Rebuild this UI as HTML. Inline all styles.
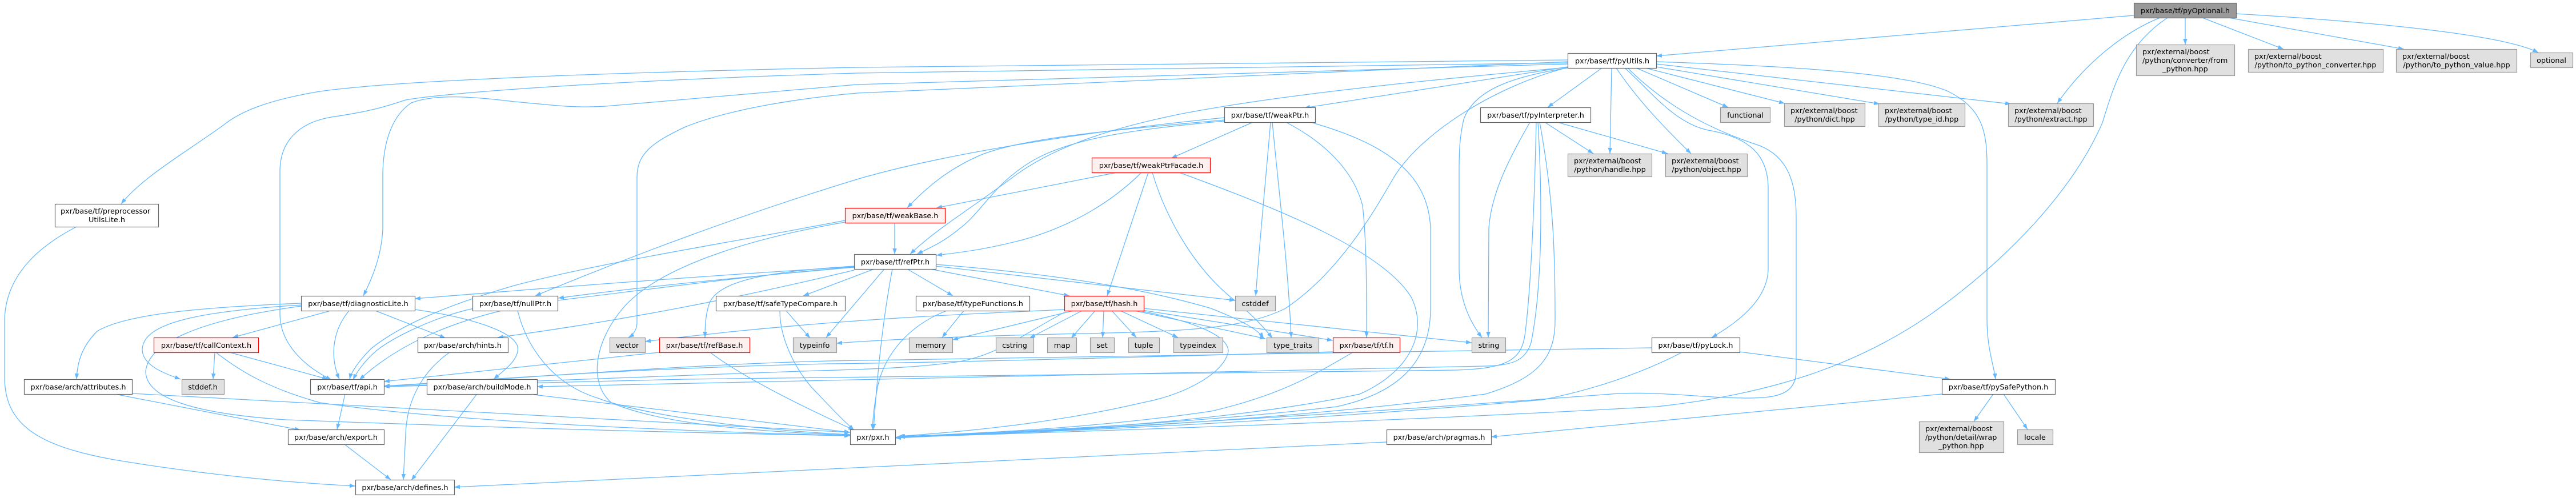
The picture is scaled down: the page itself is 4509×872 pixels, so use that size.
<!DOCTYPE html>
<html><head><meta charset="utf-8"><style>
html,body{margin:0;padding:0;background:#fff;}
svg{display:block;}
text{font-family:"DejaVu Sans","Liberation Sans",sans-serif;font-size:12.8px;fill:#000;}
.e{fill:none;stroke:#63b8ff;stroke-width:1.25;marker-end:url(#a);}
.w{fill:#fff;stroke:#666;stroke-width:1.2;}
.r{fill:#fff0f0;stroke:#ff0000;stroke-width:1.2;}
.g{fill:#e0e0e0;stroke:#999;stroke-width:1.2;}
.k{fill:#999;stroke:#666;stroke-width:1.2;}
</style></head><body>
<svg width="4509" height="872" viewBox="0 0 4509 872" xmlns="http://www.w3.org/2000/svg">
<defs><marker id="a" markerWidth="11" markerHeight="9" refX="10" refY="4" orient="auto" markerUnits="userSpaceOnUse"><path d="M0,0.3 L10,4 L0,7.7 z" fill="#63b8ff"/></marker></defs>
<g>
<!-- pyOptional -->
<path class="e" d="M3735,27 L2899,98"/>
<path class="e" d="M3825,31 L3825,78"/>
<path class="e" d="M3855,31 L3997,86"/>
<path class="e" d="M3901,31 L4208,86"/>
<path class="e" d="M3914,24 C4150,38 4380,60 4443,92"/>
<path class="e" d="M3781,31 C3720,55 3650,110 3601,181"/>
<path class="e" d="M3794,31 C3720,80 3700,150 3680,215 C3630,330 3520,450 3380,550 C3250,640 3100,690 2900,712 C2400,740 1900,755 1567,766"/>
<!-- pyUtils -->
<path class="e" d="M2804,119 L2709,188"/>
<path class="e" d="M2821,119 L2818,269"/>
<path class="e" d="M2829,119 C2870,180 2920,230 2960,269"/>
<path class="e" d="M2864,119 L3025,188"/>
<path class="e" d="M2880,119 L3124,181"/>
<path class="e" d="M2899,117 L3290,182"/>
<path class="e" d="M2899,112 L3520,182"/>
<path class="e" d="M2899,108 C3100,115 3330,125 3410,160 C3470,190 3478,230 3478,290 L3478,560 C3478,610 3490,640 3493,664"/>
<path class="e" d="M2844,119 C2890,160 2930,215 2990,228 C3060,240 3095,270 3095,330 L3095,470 C3095,520 3050,560 2996,591"/>
<path class="e" d="M2849,119 C2930,200 3020,235 3080,255 C3130,275 3144,320 3144,380 L3144,650 C3144,690 3110,697 3060,697 C2980,697 2900,684 2820,690 C2400,722 1900,752 1567,767"/>
<path class="e" d="M2744,117 L2283,189"/>
<path class="e" d="M2744,118 C2500,140 2250,165 2080,197 C1950,222 1850,255 1780,305 C1700,365 1640,400 1593,445"/>
<path class="e" d="M2744,119 C2640,135 2580,160 2562,209 C2555,240 2554,264 2554,300 L2554,470 C2554,520 2570,560 2594,591"/>
<path class="e" d="M2744,118 C2620,150 2490,230 2440,310 C2400,380 2340,480 2250,540 C2180,575 2080,580 1900,584 C1700,588 1560,594 1464,601"/>
<path class="e" d="M2744,108 L1500,163 C1400,172 1280,190 1200,222 C1140,250 1115,270 1115,310 L1115,565 C1115,580 1105,588 1100,591"/>
<path class="e" d="M2744,105 L1500,118 C1100,126 700,140 560,160 C470,175 420,195 390,220 C320,270 250,310 212,357"/>
<path class="e" d="M2744,110 L1500,128 C1100,140 800,160 710,175 C680,185 650,195 580,205 C520,215 490,250 490,300 L490,550 C490,600 530,640 580,665"/>
<path class="e" d="M2744,112 L1500,148 C1300,165 1150,178 1060,186 C1000,190 950,182 900,178 C820,168 760,165 720,180 C690,200 672,240 670,300 L670,400 C668,450 650,490 636,518"/>
<!-- weakPtr -->
<path class="e" d="M2193,214 L2050,277"/>
<path class="e" d="M2143,210 C1950,228 1800,240 1720,270 C1660,295 1620,330 1588,364"/>
<path class="e" d="M2143,212 C2000,225 1880,240 1810,280 C1740,320 1720,370 1680,400 C1650,425 1625,435 1605,445"/>
<path class="e" d="M2143,206 C1900,230 1650,270 1500,314 C1300,375 1100,450 937,518"/>
<path class="e" d="M2224,214 C2215,320 2205,420 2198,518"/>
<path class="e" d="M2227,214 C2240,350 2255,470 2260,591"/>
<path class="e" d="M2251,214 C2320,250 2370,300 2385,360 C2392,420 2392,500 2392,591"/>
<path class="e" d="M2294,214 C2420,250 2500,300 2504,400 L2504,540 C2504,640 2440,690 2340,712 C2100,740 1800,755 1567,766"/>
<!-- weakPtrFacade -->
<path class="e" d="M1955,302 L1639,364"/>
<path class="e" d="M1998,302 C1950,350 1880,395 1790,420 C1720,438 1680,442 1639,447"/>
<path class="e" d="M2010,302 L1938,518"/>
<path class="e" d="M2017,302 C2040,380 2090,470 2160,525 C2190,550 2210,570 2227,592"/>
<path class="e" d="M2064,302 C2250,370 2420,440 2470,520 C2500,580 2470,650 2380,690 C2150,740 1800,758 1567,766"/>
<!-- weakBase -->
<path class="e" d="M1566,390 L1566,445"/>
<path class="e" d="M1479,386 C1250,430 1050,460 900,500 C780,535 700,570 650,610 C630,630 615,650 612,664"/>
<path class="e" d="M1479,389 C1300,420 1150,470 1090,540 C1040,600 1030,670 1070,705 C1150,740 1300,755 1488,762"/>
<!-- refPtr -->
<path class="e" d="M1495,467 C1200,485 950,505 726,523"/>
<path class="e" d="M1495,468 C1300,485 1100,505 977,522"/>
<path class="e" d="M1495,468 C1350,478 1150,505 960,528 C830,548 710,590 629,665"/>
<path class="e" d="M1495,473 C1300,520 1100,560 871,591"/>
<path class="e" d="M1495,466 C1350,475 1260,490 1242,530 C1235,550 1234,570 1234,591"/>
<path class="e" d="M1530,471 L1406,518"/>
<path class="e" d="M1548,471 L1446,591"/>
<path class="e" d="M1562,471 C1545,560 1535,660 1529,752"/>
<path class="e" d="M1588,471 L1668,518"/>
<path class="e" d="M1628,471 L1872,518"/>
<path class="e" d="M1638,466 L2162,526"/>
<path class="e" d="M1638,463 C1850,480 2000,505 2120,540 C2170,560 2200,575 2212,592"/>
<!-- diagnosticLite -->
<path class="e" d="M579,544 L407,591"/>
<path class="e" d="M611,544 C585,575 575,620 594,664"/>
<path class="e" d="M657,544 L780,592"/>
<path class="e" d="M726,542 C820,555 900,580 906,607 C910,630 880,650 864,664"/>
<path class="e" d="M527,534 C350,545 250,565 249,612 C249,640 290,655 316,664"/>
<path class="e" d="M527,531 C350,538 220,550 170,580 C140,610 135,640 134,664"/>
<path class="e" d="M527,536 C350,560 260,600 255,650 C255,700 350,725 500,735 C900,750 1200,758 1488,763"/>
<!-- nullPtr -->
<path class="e" d="M829,540 C760,555 690,590 660,613 C640,630 625,650 618,665"/>
<path class="e" d="M906,544 C920,600 960,670 1046,697 C1120,725 1300,752 1488,761"/>
<!-- safeTypeCompare -->
<path class="e" d="M1376,544 L1418,592"/>
<path class="e" d="M1365,544 C1365,600 1400,660 1432,690 C1460,720 1480,740 1495,753"/>
<!-- typeFunctions -->
<path class="e" d="M1687,544 L1649,591"/>
<path class="e" d="M1657,544 C1590,570 1550,620 1537,673 C1530,710 1528,730 1527,752"/>
<!-- hash -->
<path class="e" d="M1879,544 L1667,595"/>
<path class="e" d="M1894,544 L1802,592"/>
<path class="e" d="M1917,544 L1875,592"/>
<path class="e" d="M1932,544 L1930,591"/>
<path class="e" d="M1946,544 L1989,591"/>
<path class="e" d="M1961,544 L2062,591"/>
<path class="e" d="M1986,544 L2215,593"/>
<path class="e" d="M1993,542 L2333,596"/>
<path class="e" d="M2002,540 L2576,600"/>
<path class="e" d="M1863,542 C1700,550 1450,558 1129,598"/>
<path class="e" d="M1863,547 C1800,580 1750,620 1680,633 C1600,645 1500,647 1400,650 C1100,660 850,670 672,677"/>
<path class="e" d="M1995,544 C2100,565 2150,590 2150,615 C2145,650 2080,690 2000,705 C1850,740 1700,755 1572,764"/>
<!-- tf.h -->
<path class="e" d="M2333,616 C2000,625 1700,634 1450,637 C1100,645 850,665 672,676"/>
<path class="e" d="M2368,617 C2310,650 2250,690 2120,720 C1950,745 1750,758 1574,764"/>
<!-- pyInterpreter -->
<path class="e" d="M2704,214 L2789,269"/>
<path class="e" d="M2726,214 L2919,269"/>
<path class="e" d="M2678,214 C2640,280 2610,340 2606,400 L2605,591"/>
<path class="e" d="M2689,214 C2686,350 2680,500 2670,580 C2665,630 2640,645 2550,648 C1900,652 1450,657 1200,664 C1000,670 800,674 672,677"/>
<path class="e" d="M2692,214 C2700,350 2700,500 2680,600 C2670,630 2650,640 2600,641 C2000,655 1450,668 940,677"/>
<path class="e" d="M2695,214 C2720,350 2722,450 2722,560 C2722,620 2700,660 2600,690 C2300,730 1900,755 1574,765"/>
<!-- pyLock -->
<path class="e" d="M3045,616 L3414,664"/>
<path class="e" d="M2891,609 C2300,620 1800,628 1450,632 C1150,640 850,668 672,676"/>
<path class="e" d="M2944,617 C2880,650 2800,680 2700,700 C2300,735 1900,755 1574,765"/>
<!-- pySafePython -->
<path class="e" d="M3489,690 L3455,738"/>
<path class="e" d="M3507,690 L3549,752"/>
<path class="e" d="M3399,690 L2610,765"/>
<!-- pragmas -->
<path class="e" d="M2427,774 L795,853"/>
<!-- preprocessor -->
<path class="e" d="M134,397 C70,430 10,480 8,560 L8,660 C8,740 60,780 200,805 C350,830 500,845 622,851"/>
<!-- callContext -->
<path class="e" d="M376,617 L373,664"/>
<path class="e" d="M402,617 L574,664"/>
<path class="e" d="M378,617 C420,650 470,680 560,705 C800,740 1200,755 1488,763"/>
<!-- hints -->
<path class="e" d="M787,617 C740,650 712,700 710,760 L706,840"/>
<!-- refBase -->
<path class="e" d="M1154,617 L672,668"/>
<path class="e" d="M1243,617 C1300,660 1400,710 1495,753"/>
<!-- attributes -->
<path class="e" d="M201,690 L526,753"/>
<path class="e" d="M231,689 L1488,757"/>
<!-- api, buildMode, export -->
<path class="e" d="M604,690 L590,752"/>
<path class="e" d="M834,691 L720,841"/>
<path class="e" d="M934,691 L1488,757"/>
<path class="e" d="M603,778 L684,840"/>
</g>

<g>
<!-- root -->
<rect class="k" x="3735.5" y="5.5" width="179" height="26"/><text x="3825" y="23" text-anchor="middle">pxr/base/tf/pyOptional.h</text>

<!-- white nodes -->
<rect class="w" x="2744.5" y="93.5" width="155" height="26"/><text x="2822" y="111" text-anchor="middle">pxr/base/tf/pyUtils.h</text>
<rect class="w" x="2143.5" y="188.5" width="159" height="26"/><text x="2223" y="206" text-anchor="middle">pxr/base/tf/weakPtr.h</text>
<rect class="w" x="2591.5" y="188.5" width="193" height="26"/><text x="2688" y="206" text-anchor="middle">pxr/base/tf/pyInterpreter.h</text>
<rect class="w" x="96.5" y="357.5" width="181" height="40"/><text x="106" y="374">pxr/base/tf/preprocessor</text><text x="187" y="389" text-anchor="middle">UtilsLite.h</text>
<rect class="w" x="1495.5" y="445.5" width="143" height="26"/><text x="1567" y="463" text-anchor="middle">pxr/base/tf/refPtr.h</text>
<rect class="w" x="527.5" y="518.5" width="199" height="26"/><text x="627" y="536" text-anchor="middle">pxr/base/tf/diagnosticLite.h</text>
<rect class="w" x="827.5" y="518.5" width="149" height="26"/><text x="902" y="536" text-anchor="middle">pxr/base/tf/nullPtr.h</text>
<rect class="w" x="1253.5" y="518.5" width="226" height="26"/><text x="1366" y="536" text-anchor="middle">pxr/base/tf/safeTypeCompare.h</text>
<rect class="w" x="1603.5" y="518.5" width="199" height="26"/><text x="1703" y="536" text-anchor="middle">pxr/base/tf/typeFunctions.h</text>
<rect class="w" x="731.5" y="591.5" width="158" height="26"/><text x="810" y="609" text-anchor="middle">pxr/base/arch/hints.h</text>
<rect class="w" x="2891.5" y="591.5" width="154" height="26"/><text x="2968" y="609" text-anchor="middle">pxr/base/tf/pyLock.h</text>
<rect class="w" x="42.5" y="664.5" width="189" height="26"/><text x="137" y="682" text-anchor="middle">pxr/base/arch/attributes.h</text>
<rect class="w" x="543.5" y="664.5" width="129" height="26"/><text x="608" y="682" text-anchor="middle">pxr/base/tf/api.h</text>
<rect class="w" x="747.5" y="664.5" width="193" height="26"/><text x="844" y="682" text-anchor="middle">pxr/base/arch/buildMode.h</text>
<rect class="w" x="3399.5" y="664.5" width="198" height="26"/><text x="3498" y="682" text-anchor="middle">pxr/base/tf/pySafePython.h</text>
<rect class="w" x="504.5" y="752.5" width="168" height="26"/><text x="588" y="770" text-anchor="middle">pxr/base/arch/export.h</text>
<rect class="w" x="1488.5" y="752.5" width="79" height="26"/><text x="1528" y="770" text-anchor="middle">pxr/pxr.h</text>
<rect class="w" x="2427.5" y="752.5" width="183" height="26"/><text x="2519" y="770" text-anchor="middle">pxr/base/arch/pragmas.h</text>
<rect class="w" x="622.5" y="840.5" width="173" height="26"/><text x="709" y="858" text-anchor="middle">pxr/base/arch/defines.h</text>

<!-- red nodes -->
<rect class="r" x="1911.5" y="276.5" width="207" height="26"/><text x="2015" y="294" text-anchor="middle">pxr/base/tf/weakPtrFacade.h</text>
<rect class="r" x="1479.5" y="364.5" width="175" height="26"/><text x="1567" y="382" text-anchor="middle">pxr/base/tf/weakBase.h</text>
<rect class="r" x="1863.5" y="518.5" width="139" height="26"/><text x="1933" y="536" text-anchor="middle">pxr/base/tf/hash.h</text>
<rect class="r" x="269.5" y="591.5" width="183" height="26"/><text x="361" y="609" text-anchor="middle">pxr/base/tf/callContext.h</text>
<rect class="r" x="1154.5" y="591.5" width="158" height="26"/><text x="1233" y="609" text-anchor="middle">pxr/base/tf/refBase.h</text>
<rect class="r" x="2333.5" y="591.5" width="117" height="26"/><text x="2392" y="609" text-anchor="middle">pxr/base/tf/tf.h</text>

<!-- gray nodes -->
<rect class="g" x="3739.5" y="78.5" width="172" height="54"/><text x="3750" y="95">pxr/external/boost</text><text x="3750" y="110">/python/converter/from</text><text x="3825" y="125" text-anchor="middle">_python.hpp</text>
<rect class="g" x="3935.5" y="86.5" width="236" height="40"/><text x="3946" y="103">pxr/external/boost</text><text x="4053" y="118" text-anchor="middle">/python/to_python_converter.hpp</text>
<rect class="g" x="4194.5" y="86.5" width="211" height="40"/><text x="4205" y="103">pxr/external/boost</text><text x="4300" y="118" text-anchor="middle">/python/to_python_value.hpp</text>
<rect class="g" x="4429.5" y="92.5" width="74" height="26"/><text x="4466" y="110" text-anchor="middle">optional</text>
<rect class="g" x="3011.5" y="188.5" width="87" height="26"/><text x="3055" y="206" text-anchor="middle">functional</text>
<rect class="g" x="3123.5" y="181.5" width="141" height="40"/><text x="3134" y="198">pxr/external/boost</text><text x="3194" y="213" text-anchor="middle">/python/dict.hpp</text>
<rect class="g" x="3288.5" y="181.5" width="151" height="40"/><text x="3299" y="198">pxr/external/boost</text><text x="3364" y="213" text-anchor="middle">/python/type_id.hpp</text>
<rect class="g" x="3515.5" y="181.5" width="149" height="40"/><text x="3526" y="198">pxr/external/boost</text><text x="3590" y="213" text-anchor="middle">/python/extract.hpp</text>
<rect class="g" x="2744.5" y="269.5" width="147" height="40"/><text x="2755" y="286">pxr/external/boost</text><text x="2818" y="301" text-anchor="middle">/python/handle.hpp</text>
<rect class="g" x="2915.5" y="269.5" width="143" height="40"/><text x="2926" y="286">pxr/external/boost</text><text x="2987" y="301" text-anchor="middle">/python/object.hpp</text>
<rect class="g" x="2162.5" y="518.5" width="70" height="26"/><text x="2197" y="536" text-anchor="middle">cstddef</text>
<rect class="g" x="1067.5" y="591.5" width="62" height="26"/><text x="1098" y="609" text-anchor="middle">vector</text>
<rect class="g" x="1388.5" y="591.5" width="76" height="26"/><text x="1426" y="609" text-anchor="middle">typeinfo</text>
<rect class="g" x="1591.5" y="591.5" width="76" height="26"/><text x="1629" y="609" text-anchor="middle">memory</text>
<rect class="g" x="1743.5" y="591.5" width="66" height="26"/><text x="1776" y="609" text-anchor="middle">cstring</text>
<rect class="g" x="1833.5" y="591.5" width="51" height="26"/><text x="1859" y="609" text-anchor="middle">map</text>
<rect class="g" x="1908.5" y="591.5" width="42" height="26"/><text x="1929" y="609" text-anchor="middle">set</text>
<rect class="g" x="1975.5" y="591.5" width="54" height="26"/><text x="2002" y="609" text-anchor="middle">tuple</text>
<rect class="g" x="2054.5" y="591.5" width="86" height="26"/><text x="2097" y="609" text-anchor="middle">typeindex</text>
<rect class="g" x="2217.5" y="591.5" width="91" height="26"/><text x="2263" y="609" text-anchor="middle">type_traits</text>
<rect class="g" x="2576.5" y="591.5" width="59" height="26"/><text x="2606" y="609" text-anchor="middle">string</text>
<rect class="g" x="318.5" y="664.5" width="74" height="26"/><text x="355" y="682" text-anchor="middle">stddef.h</text>
<rect class="g" x="3359.5" y="738.5" width="148" height="54"/><text x="3370" y="755">pxr/external/boost</text><text x="3370" y="770">/python/detail/wrap</text><text x="3433" y="785" text-anchor="middle">_python.hpp</text>
<rect class="g" x="3531.5" y="752.5" width="62" height="26"/><text x="3562" y="770" text-anchor="middle">locale</text>
</g>
</svg>
</body></html>
